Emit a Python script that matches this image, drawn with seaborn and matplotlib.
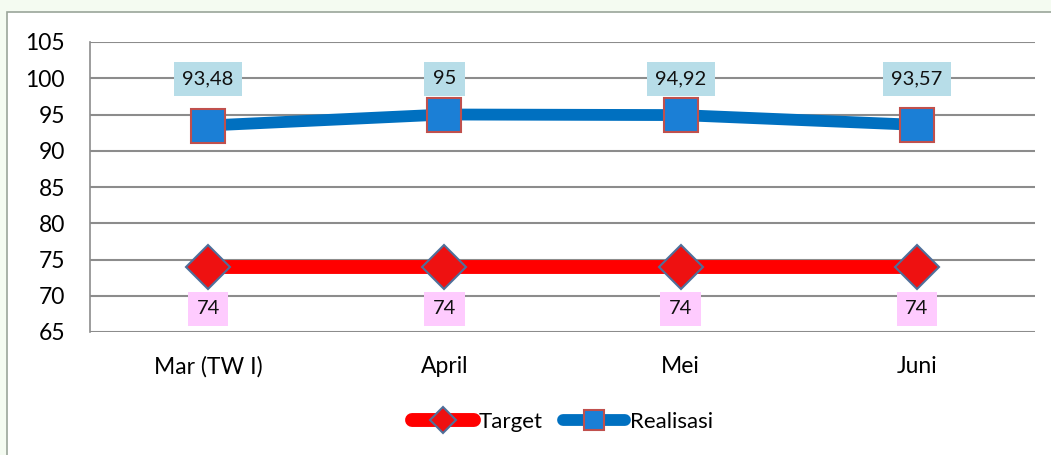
import matplotlib.pyplot as plt
import pandas as pd
import seaborn as sns
from matplotlib.patches import Rectangle

months = ["Mar (TW I)", "April", "Mei", "Juni"]
target = [74, 74, 74, 74]
realisasi = [93.48, 95, 94.92, 93.57]
realisasi_labels = ["93,48", "95", "94,92", "93,57"]
target_labels = ["74", "74", "74", "74"]
y_ticks = [65, 70, 75, 80, 85, 90, 95, 100, 105]

df = pd.DataFrame({
    "bulan": months * 2,
    "pos": list(range(len(months))) * 2,
    "nilai": target + realisasi,
    "seri": ["Target"] * len(months) + ["Realisasi"] * len(months),
})

sns.set_theme(style="white")
plt.rcParams["font.family"] = ["Lato", "DejaVu Sans"]
plt.rcParams["text.color"] = "black"
plt.rcParams["xtick.color"] = "black"
plt.rcParams["ytick.color"] = "black"

fig = plt.figure(figsize=(10.51, 4.55), dpi=100)
fig.patch.set_facecolor("#f4fbf1")
fig.patches.append(Rectangle((7 / 1051, -0.01), 1.0, 1 - 12 / 455 + 0.01,
                             transform=fig.transFigure, facecolor="white",
                             edgecolor="#9aa59a", linewidth=1.2, zorder=-5))
ax = fig.add_axes([90 / 1051, 1 - 332 / 455, 945 / 1051, 290 / 455])
ax.set_zorder(2)
ax.set_facecolor("none")

styles = {
    "Target": dict(color="#ff0000", lw=10, marker="D", mfc="#ee1111", mec="#4f6f9a", ms=22, mew=1.5),
    "Realisasi": dict(color="#0070c0", lw=8.5, marker="s", mfc="#1b7fd6", mec="#c0504d", ms=25, mew=1.5),
}
for name in ["Target", "Realisasi"]:
    st = styles[name]
    sns.lineplot(data=df[df["seri"] == name], x="pos", y="nilai", ax=ax,
                 color=st["color"], linewidth=st["lw"], marker=st["marker"],
                 markerfacecolor=st["mfc"], markeredgecolor=st["mec"],
                 markersize=st["ms"], markeredgewidth=st["mew"],
                 solid_capstyle="round", label=name, zorder=3)

for i, (v, lab) in enumerate(zip(realisasi, realisasi_labels)):
    ax.text(i, 99.9, lab, ha="center", va="center", fontsize=14.5, color="#111111",
            bbox=dict(boxstyle="square,pad=0.42", facecolor="#b7dde8", edgecolor="none"), zorder=5)
for i, (v, lab) in enumerate(zip(target, target_labels)):
    ax.text(i, 68.2, lab, ha="center", va="center", fontsize=14.5, color="#111111",
            bbox=dict(boxstyle="square,pad=0.42", facecolor="#fecbfe", edgecolor="none"), zorder=5)

ax.set_xlim(-0.5, 3.5)
ax.set_ylim(65, 105)
ax.set_yticks(y_ticks)
ax.set_yticklabels([str(t) for t in y_ticks], fontsize=16.5)
ax.set_xticks(range(len(months)))
ax.set_xticklabels(months, fontsize=16.5)
ax.tick_params(axis="x", length=0, pad=17)
ax.tick_params(axis="y", length=0, pad=18)
ax.grid(axis="y", color="#8c8c8c", linewidth=1.5)
ax.set_axisbelow(True)
for side in ["top", "right", "bottom"]:
    ax.spines[side].set_visible(False)
ax.spines["left"].set_color("#8c8c8c")
ax.spines["left"].set_linewidth(1.2)
ax.set_xlabel("")
ax.set_ylabel("")

ax.legend(loc="center", bbox_to_anchor=(0.5, -0.31), ncol=2, frameon=False,
          fontsize=16, handlelength=2.8, handletextpad=0.2, columnspacing=0.9,
          markerscale=0.6)

fig.savefig("out.png", dpi=100, facecolor=fig.get_facecolor())
